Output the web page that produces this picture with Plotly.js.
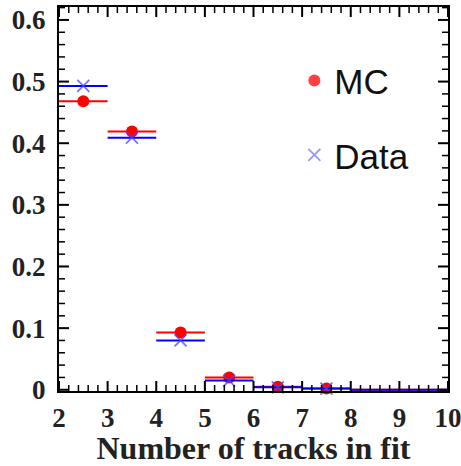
<!DOCTYPE html>
<html><head><meta charset="utf-8">
<script src="https://cdn.plot.ly/plotly-3.0.1.min.js"></script>
<style>html,body{margin:0;padding:0;background:#fff}</style>
</head><body><div id="c" style="width:461px;height:466px"></div>
<script>
const binCenters = [2.5, 3.5, 4.5, 5.5, 6.5, 7.5, 8.5, 9.5];
const mcValues   = [0.468, 0.419, 0.093, 0.020, 0.005, 0.002, 0, 0];
const dataValues = [0.493, 0.409, 0.080, 0.015, 0.004, 0.002, 0, 0];

const mc = {
  x: binCenters, y: mcValues, type: 'scatter', mode: 'markers', name: 'MC',
  legendgroup: 'a',
  marker: {color: '#ff0000', size: 12, opacity: mcValues.map(v => v > 0 ? 1 : 0)},
  error_x: {type: 'constant', value: 0.5, color: '#ff0000', thickness: 2, width: 0},
  cliponaxis: false
};
const data = {
  x: binCenters, y: dataValues, type: 'scatter', mode: 'markers', name: 'Data',
  legendgroup: 'b',
  marker: {color: 'rgba(70,70,255,0.75)', symbol: 'x-thin', size: 12,
    line: {color: 'rgba(70,70,255,0.75)', width: 1.8}, opacity: dataValues.map(v => v > 0 ? 1 : 0)},
  error_x: {type: 'constant', value: 0.5, color: '#0000ff', thickness: 2, width: 0},
  cliponaxis: false
};
const serif = '"Liberation Serif", "Times New Roman", serif';
const tickFont = {family: serif, size: 27, color: '#222', weight: 'bold'};
const xRange = [2, 10];
const yRange = [-0.002, 0.621];

// frame ticks (inside, on all four sides): majors every 1 / 0.1, minors every 0.2 / 0.02
const shapes = [];
const tickLine = w => ({color: '#000', width: w});
for (let i = 0; i <= 40; i++) {
  const v = 2 + i * 0.2, major = i % 5 === 0, len = major ? 10 : 6;
  shapes.push({type: 'line', layer: 'above', xref: 'x', yref: 'paper', x0: v, x1: v,
    ysizemode: 'pixel', yanchor: 0, y0: 0, y1: len, line: tickLine(major ? 2 : 1.5)});
  shapes.push({type: 'line', layer: 'above', xref: 'x', yref: 'paper', x0: v, x1: v,
    ysizemode: 'pixel', yanchor: 1, y0: 0, y1: -len, line: tickLine(major ? 2 : 1.5)});
}
for (let i = 0; i <= 31; i++) {
  const v = i * 0.02, major = i % 5 === 0, len = major ? 10 : 6;
  shapes.push({type: 'line', layer: 'above', xref: 'paper', yref: 'y', y0: v, y1: v,
    xsizemode: 'pixel', xanchor: 0, x0: 0, x1: len, line: tickLine(major ? 2 : 1.5)});
  shapes.push({type: 'line', layer: 'above', xref: 'paper', yref: 'y', y0: v, y1: v,
    xsizemode: 'pixel', xanchor: 1, x0: 0, x1: -len, line: tickLine(major ? 2 : 1.5)});
}

const layout = {
  width: 461, height: 466,
  margin: {l: 59, r: 13, t: 7, b: 75},
  showlegend: true,
  legend: {x: 0.605, y: 0.885, xanchor: 'left', yanchor: 'top', bgcolor: 'rgba(0,0,0,0)',
    font: {family: '"Liberation Sans", Arial, sans-serif', size: 35, color: '#111'},
    tracegroupgap: 26, itemwidth: 30},
  xaxis: {
    range: xRange, dtick: 1, ticks: '',
    showline: true, linecolor: '#000', linewidth: 2, mirror: true,
    showgrid: false, zeroline: false,
    tickfont: tickFont, ticklabelstandoff: 2, ticklabeloverflow: 'allow',
    title: {text: 'Number of tracks in fit', font: {family: serif, size: 32, color: '#222', weight: 'bold'}, standoff: 8}
  },
  yaxis: {
    range: yRange, dtick: 0.1, ticks: '',
    showline: true, linecolor: '#000', linewidth: 2, mirror: true,
    showgrid: false, zeroline: false,
    tickfont: tickFont, ticklabelstandoff: 6, ticklabeloverflow: 'allow'
  },
  shapes: shapes
};
Plotly.newPlot('c', [mc, data], layout, {displayModeBar: false});
</script></body></html>
